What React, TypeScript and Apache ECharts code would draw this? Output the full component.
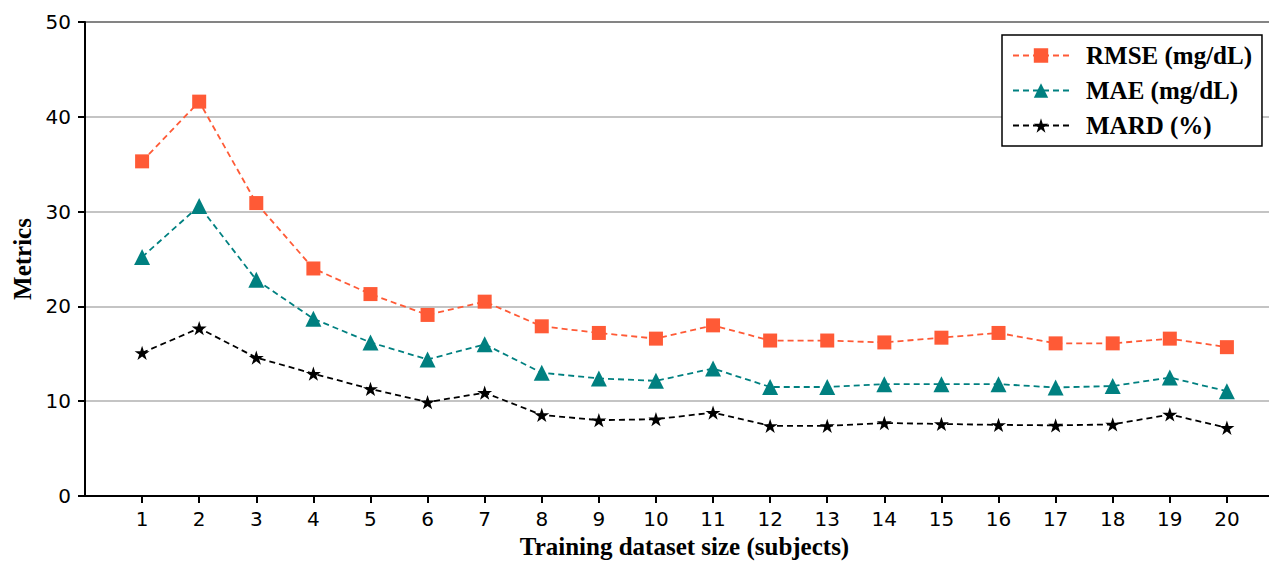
import React, { useEffect, useRef } from "react";
import * as echarts from "echarts";

const categories = [1, 2, 3, 4, 5, 6, 7, 8, 9, 10, 11, 12, 13, 14, 15, 16, 17, 18, 19, 20];
const rmse = [35.3, 41.6, 30.9, 24.0, 21.3, 19.1, 20.5, 17.9, 17.2, 16.6, 18.0, 16.4, 16.4, 16.2, 16.7, 17.2, 16.1, 16.1, 16.6, 15.7];
const mae = [25.2, 30.6, 22.8, 18.7, 16.2, 14.4, 16.0, 13.0, 12.4, 12.15, 13.45, 11.5, 11.5, 11.8, 11.8, 11.8, 11.45, 11.6, 12.5, 11.05];
const mard = [15.1, 17.7, 14.6, 12.9, 11.3, 9.9, 10.9, 8.55, 8.0, 8.1, 8.8, 7.4, 7.4, 7.7, 7.6, 7.5, 7.45, 7.55, 8.6, 7.2];
const yTicks = [0, 10, 20, 30, 40, 50];
const seriesNames = ["RMSE (mg/dL)", "MAE (mg/dL)", "MARD (%)"];

const STAR =
  "path://M50 0 L61.23 34.55 L97.55 34.55 L68.17 55.9 L79.39 90.45 L50 69.1 L20.61 90.45 L31.83 55.9 L2.45 34.55 L38.77 34.55 Z";

export default function App() {
  const ref = useRef<HTMLDivElement>(null);
  useEffect(() => {
    if (!ref.current) return;
    const chart = echarts.init(ref.current, null, { renderer: "svg" });
    const toPairs = (arr: number[]) => categories.map((c, i) => [c, arr[i]]);
    const serif = "'Liberation Serif', 'Times New Roman', serif";
    const sans = "'DejaVu Sans', sans-serif";
    const mk = (name: string, data: number[], color: string, symbol: string, size: number) => ({
      name,
      type: "line",
      data: toPairs(data),
      symbol,
      symbolSize: size,
      symbolKeepAspect: true,
      showSymbol: true,
      lineStyle: { color, width: 1.8, type: [6, 4] },
      itemStyle: { color, borderColor: color, borderWidth: 0 },
      emphasis: { disabled: true },
      z: 3,
    });
    chart.setOption({
      animation: false,
      backgroundColor: "#fff",
      grid: {
        left: 85,
        top: 22,
        width: 1199,
        height: 474,
        outerBoundsMode: "none",
        containLabel: false,
        show: true,
        borderColor: "#000",
        borderWidth: 2,
        backgroundColor: "transparent",
      },
      legend: {
        orient: "vertical",
        left: 1002,
        top: 35,
        data: seriesNames,
        backgroundColor: "#fff",
        borderColor: "#000",
        borderWidth: 1.5,
        borderRadius: 0,
        padding: [8, 10, 8, 10],
        itemGap: 10,
        itemWidth: 56,
        itemHeight: 18,
        textStyle: {
          fontFamily: serif,
          fontWeight: "bold",
          fontSize: 25,
          color: "#000",
          padding: [0, 0, 0, 12],
        },
      },
      xAxis: {
        type: "value",
        min: 0,
        max: 21,
        interval: 1,
        name: "Training dataset size (subjects)",
        nameLocation: "middle",
        nameGap: 38,
        nameTextStyle: { fontFamily: serif, fontWeight: "bold", fontSize: 25, color: "#000" },
        axisLine: { show: true, lineStyle: { color: "#000", width: 2 } },
        axisTick: { show: true, inside: false, length: 7, lineStyle: { color: "#000", width: 2 }, customValues: categories },
        axisLabel: {
          fontFamily: sans,
          fontSize: 20,
          color: "#000",
          margin: 13,
          customValues: categories,
          formatter: (v: number) => (v >= 1 && v <= 20 ? String(v) : ""),
        },
        splitLine: { show: false },
      },
      yAxis: {
        type: "value",
        min: 0,
        max: 50,
        interval: 10,
        name: "Metrics",
        nameLocation: "middle",
        nameGap: 50,
        nameRotate: 90,
        nameTextStyle: { fontFamily: serif, fontWeight: "bold", fontSize: 25, color: "#000" },
        axisLine: { show: true, lineStyle: { color: "#000", width: 2 } },
        axisTick: { show: true, inside: false, length: 7, lineStyle: { color: "#000", width: 2 } },
        axisLabel: {
          fontFamily: sans,
          fontSize: 20,
          color: "#000",
          margin: 14,
          formatter: (v: number) => (yTicks.includes(v) ? String(v) : ""),
        },
        splitLine: { show: true, lineStyle: { color: "#b0b0b0", width: 1.5 } },
      },
      series: [
        mk(seriesNames[0], rmse, "#ff5a36", "rect", 14),
        mk(seriesNames[1], mae, "#008080", "triangle", 16),
        mk(seriesNames[2], mard, "#000000", STAR, 15),
      ],
    });
    return () => chart.dispose();
  }, []);
  return (
    <div
      ref={ref}
      style={{ position: "absolute", left: 0, top: 0, width: 1269, height: 562, overflow: "hidden" }}
    />
  );
}
